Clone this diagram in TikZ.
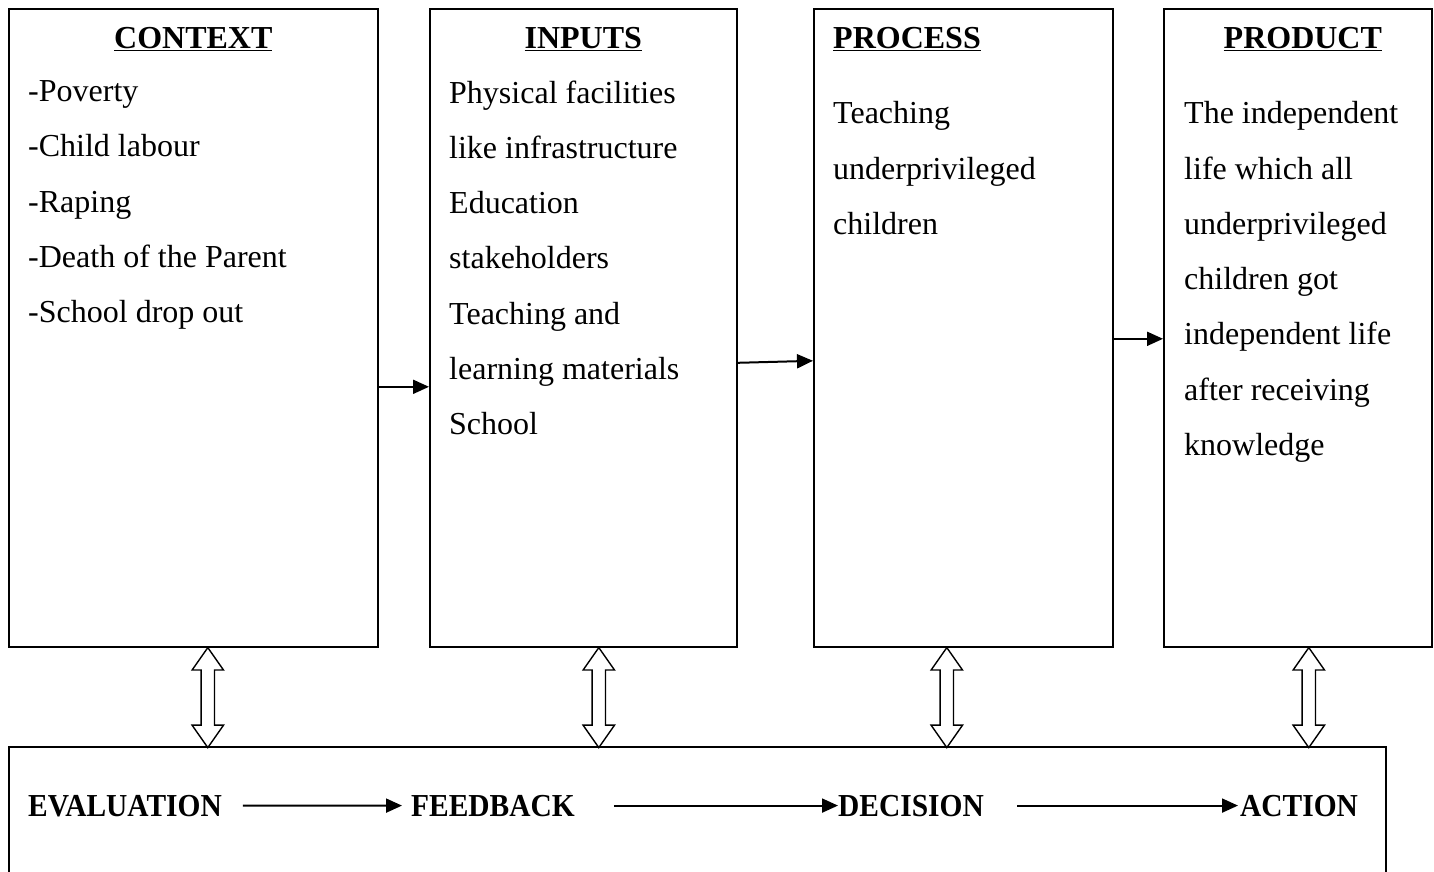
\documentclass[tikz,border=0pt]{standalone}
\usepackage{fontspec}
\setmainfont{Liberation Serif}
\newfontfamily\rowfont[FakeStretch=0.92]{Liberation Serif}
\usetikzlibrary{positioning, arrows.meta, shapes.arrows}

\newcommand{\cippsize}{\fontsize{32}{55.25}\selectfont}

\tikzset{
  stage/.style={draw, line width=1.6pt, anchor=north west,
    minimum height=638pt, inner sep=0pt},
  head/.style={font=\cippsize\bfseries, inner sep=0pt, anchor=base},
  rowhead/.style={font=\rowfont\cippsize\bfseries, inner sep=0pt, anchor=base west},
  items/.style={font=\cippsize, align=left, inner sep=0pt, anchor=north west},
  link/.style={-{Triangle[length=16pt,width=14pt]}, line width=2pt},
  twoway/.style={draw, fill=white, line width=1.4pt, double arrow, rotate=90,
    minimum height=100pt, inner xsep=0pt, inner ysep=6pt,
    double arrow head extend=9pt, double arrow tip angle=70}
}

\begin{document}
\begin{tikzpicture}[x=1pt, y=1pt]
\useasboundingbox (0,0) rectangle (1434,-871);

% the four stages
\node[stage, minimum width=369pt] (ctx) at (8,-8) {};
\node[stage, minimum width=307pt, right=50.4pt of ctx] (inp) {};
\node[stage, minimum width=299pt, right=75.4pt of inp] (prc) {};
\node[stage, minimum width=268pt, right=49.4pt of prc] (prd) {};
\node[stage, minimum width=1377pt, minimum height=140pt] (loop) at (8,-746) {};

% headings
\node[head] (ctxh) at ([yshift=-40pt]ctx.north) {\underline{CONTEXT}};
\node[head] (inph) at ([yshift=-40pt]inp.north) {\underline{INPUTS}};
\node[head, anchor=base west] (prch) at ([xshift=20pt,yshift=-40pt]prc.north west) {\underline{PROCESS}};
\node[head] (prdh) at ([xshift=5pt,yshift=-40pt]prd.north) {\underline{PRODUCT}};

% contents
\node[items] (ctxl) at ([xshift=20pt,yshift=-72.5pt]ctx.north west)
  {-Poverty\\-Child labour\\-Raping\\-Death of the Parent\\-School drop out};
\node[items] (inpl) at ([xshift=20pt,yshift=-72.5pt]inp.north west)
  {Physical facilities\\like infrastructure\\Education\\stakeholders\\Teaching and\\learning materials\\School};
\node[items] (prcl) at ([xshift=20pt,yshift=-93.5pt]prc.north west)
  {Teaching\\underprivileged\\children};
\node[items] (prdl) at ([xshift=21pt,yshift=-93.5pt]prd.north west)
  {The independent\\life which all\\underprivileged\\children got\\independent life\\after receiving\\knowledge};

% bottom row
\node[rowhead] (ev) at (28,-816) {EVALUATION};
\node[rowhead] (fb) at (411,-816) {FEEDBACK};
\node[rowhead] (dc) at (838,-816) {DECISION};
\node[rowhead] (ac) at (1240,-816) {ACTION};

\draw
  ([yshift=-59pt]ctx.east) edge[link] ([yshift=-59pt]inp.west)
  ([yshift=-35pt]inp.east) edge[link] ([yshift=-33pt]prc.west)
  ([yshift=-11pt]prc.east) edge[link] ([yshift=-11pt]prd.west)
  (ev) edge[link, shorten <=21pt, shorten >=9pt] (fb)
  (fb) edge[link, shorten <=39pt] (dc)
  (dc) edge[link, shorten <=33pt, shorten >=2pt] (ac);

% links to the bottom box
\foreach \n/\dx in {ctx/14.5, inp/15.5, prc/-16.5, prd/11}
  \node[twoway] at ([xshift=\dx pt, yshift=-50pt]\n.south) {};
\end{tikzpicture}
\end{document}
